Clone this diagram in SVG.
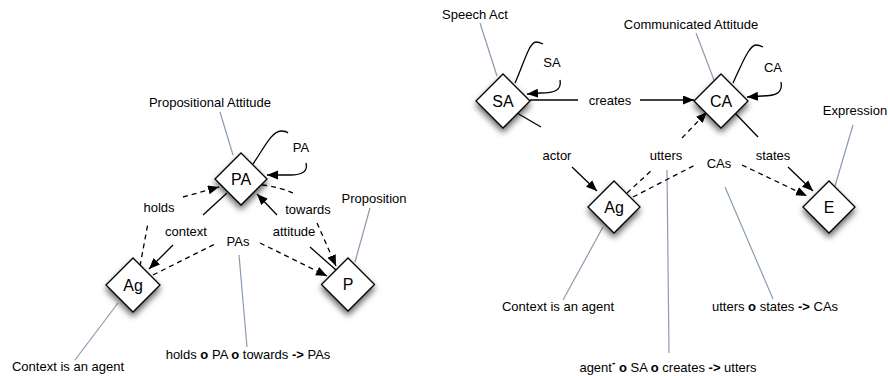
<svg xmlns="http://www.w3.org/2000/svg" width="888" height="376" viewBox="0 0 888 376">
<defs>
<filter id="sh" x="-50%" y="-50%" width="200%" height="200%">
<feDropShadow dx="0" dy="4" stdDeviation="3" flood-color="#000" flood-opacity="0.6"/>
</filter>
<marker id="ar" markerUnits="userSpaceOnUse" markerWidth="12" markerHeight="10" refX="11" refY="4.5" orient="auto">
<path d="M0,0 L11,4.5 L0,9 z" fill="#000"/>
</marker>
</defs>
<style>
.n{fill:#fff;stroke:#000;stroke-width:1.3;filter:url(#sh)}
.nl{font-family:"Liberation Sans",Arial,sans-serif;font-size:16px;text-anchor:middle;fill:#000}
.t{font-family:"Liberation Sans",Arial,sans-serif;font-size:13px;text-anchor:middle;fill:#000}
.e{fill:none;stroke:#000;stroke-width:1.3}
.d{stroke-dasharray:5,4}
.a{fill:none;stroke:#8a9bb0;stroke-width:1.2}
.b{font-weight:bold}
</style>
<rect width="888" height="376" fill="#fff"/>
<g id="annotations">
<line class="a" x1="220" y1="112" x2="233" y2="155"/>
<text class="t" x="210" y="107">Propositional Attitude</text>
<line class="a" x1="370" y1="208" x2="355" y2="262"/>
<text class="t" x="374" y="203">Proposition</text>
<line class="a" x1="118" y1="303" x2="75" y2="360"/>
<text class="t" x="68" y="371">Context is an agent</text>
<line class="a" x1="239" y1="255" x2="247" y2="347"/>
<text class="t" x="248" y="359">holds <tspan class="b">o</tspan> PA <tspan class="b">o</tspan> towards <tspan class="b">-&gt;</tspan> PAs</text>
<line class="a" x1="480" y1="23" x2="497" y2="76"/>
<text class="t" x="475" y="19">Speech Act</text>
<line class="a" x1="696" y1="33" x2="714" y2="80"/>
<text class="t" x="691" y="29">Communicated Attitude</text>
<line class="a" x1="853" y1="125" x2="835" y2="186"/>
<text class="t" x="855" y="115">Expression</text>
<line class="a" x1="603" y1="227" x2="563" y2="300"/>
<text class="t" x="558" y="311">Context is an agent</text>
<line class="a" x1="667" y1="170" x2="669" y2="353"/>
<text class="t" x="668" y="372">agent<tspan class="b" font-size="10" dy="-6">-</tspan><tspan dy="6"> </tspan><tspan class="b">o</tspan> SA <tspan class="b">o</tspan> creates <tspan class="b">-&gt;</tspan> utters</text>
<line class="a" x1="725" y1="187" x2="773" y2="299"/>
<text class="t" x="775" y="311">utters <tspan class="b">o</tspan> states <tspan class="b">-&gt;</tspan> CAs</text>
</g>
<g id="connectors">
<!-- PA self loop -->
<path class="e" d="M253,164 C264,148 272,131 281,131 C285,131 287,132 288,133"/>
<path class="e" d="M306,163 C308,171 303,175 290,175 L267,175" marker-end="url(#ar)"/>
<text class="t" x="301" y="152">PA</text>
<!-- holds -->
<path class="e d" d="M140,266 L148,223"/>
<path class="e d" d="M183,197 L219,187" marker-end="url(#ar)"/>
<text class="t" x="159" y="212">holds</text>
<!-- context -->
<path class="e" d="M227,193 L203,215"/>
<path class="e" d="M173,245 L149,269" marker-end="url(#ar)"/>
<text class="t" x="186" y="236">context</text>
<!-- PAs -->
<path class="e d" d="M153,275 L217,243"/>
<path class="e d" d="M260,243 L327,276" marker-end="url(#ar)"/>
<text class="t" x="238" y="246">PAs</text>
<!-- attitude -->
<path class="e" d="M336,270 L310,247"/>
<path class="e" d="M277,215 L257,194" marker-end="url(#ar)"/>
<text class="t" x="294" y="236">attitude</text>
<!-- towards -->
<path class="e d" d="M262,185 Q280,187 293,193"/>
<path class="e d" d="M317,223 L336,266" marker-end="url(#ar)"/>
<text class="t" x="308" y="214">towards</text>
<!-- SA self loop -->
<path class="e" d="M515,83 C523,66 529,42 536,42 C539,42 541,43 543,44"/>
<path class="e" d="M560,80 C562,90 555,93 540,93 L527,94" marker-end="url(#ar)"/>
<text class="t" x="552" y="67">SA</text>
<!-- CA self loop -->
<path class="e" d="M733,83 C741,66 749,45 756,45 C759,45 761,46 763,47"/>
<path class="e" d="M781,82 C783,93 776,96 762,96 L747,97" marker-end="url(#ar)"/>
<text class="t" x="773" y="72">CA</text>
<!-- creates -->
<path class="e" d="M530,100 L578,100"/>
<path class="e" d="M640,100 L694,100" marker-end="url(#ar)"/>
<text class="t" x="610" y="105">creates</text>
<!-- actor -->
<path class="e" d="M517,113 L541,127"/>
<path class="e" d="M572,167 L597,191" marker-end="url(#ar)"/>
<text class="t" x="557" y="160">actor</text>
<!-- utters -->
<path class="e d" d="M627,193 L653,169"/>
<path class="e d" d="M682,138 L707,112" marker-end="url(#ar)"/>
<text class="t" x="666" y="160">utters</text>
<!-- CAs -->
<path class="e d" d="M633,197 L697,164"/>
<path class="e d" d="M742,165 L807,196" marker-end="url(#ar)"/>
<text class="t" x="719" y="168">CAs</text>
<!-- states -->
<path class="e" d="M735,113 L758,137"/>
<path class="e" d="M788,167 L813,191" marker-end="url(#ar)"/>
<text class="t" x="773" y="160">states</text>
</g>
<g id="node-PA"><path class="n" d="M241,153 L267,179 L241,205 L215,179 Z"/><text class="nl" x="241" y="185">PA</text></g>
<g id="node-Ag1"><path class="n" d="M133,258 L160,285 L133,312 L106,285 Z"/><text class="nl" x="133" y="291">Ag</text></g>
<g id="node-P"><path class="n" d="M348,258 L374.5,284.5 L348,311 L321.5,284.5 Z"/><text class="nl" x="348" y="290">P</text></g>
<g id="node-SA"><path class="n" d="M503,74 L530,101 L503,128 L476,101 Z"/><text class="nl" x="503" y="107">SA</text></g>
<g id="node-CA"><path class="n" d="M721,74 L748,101 L721,128 L694,101 Z"/><text class="nl" x="721" y="107">CA</text></g>
<g id="node-Ag2"><path class="n" d="M614,181 L640,207 L614,233 L588,207 Z"/><text class="nl" x="614" y="213">Ag</text></g>
<g id="node-E"><path class="n" d="M829,181 L855,207 L829,233 L803,207 Z"/><text class="nl" x="829" y="213">E</text></g>
</svg>
